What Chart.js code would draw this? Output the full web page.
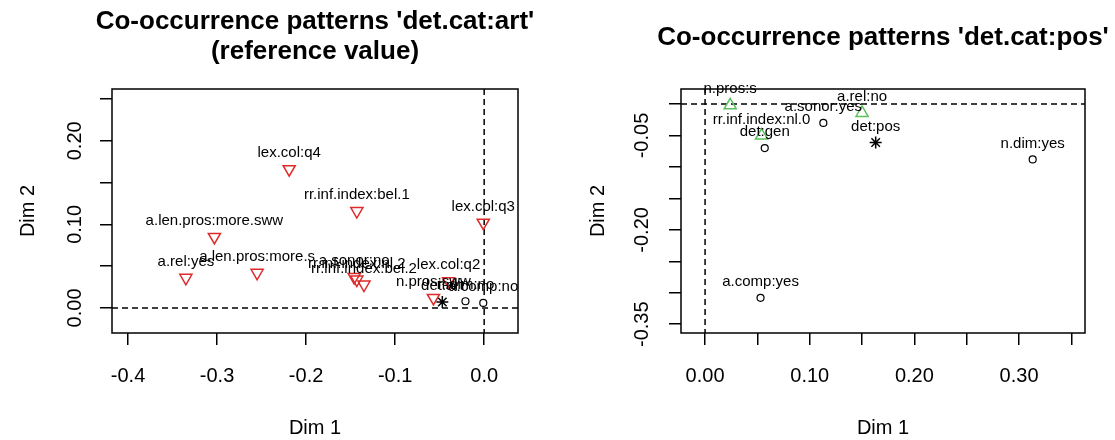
<!DOCTYPE html>
<html>
<head>
<meta charset="utf-8">
<script src="https://cdn.jsdelivr.net/npm/chart.js@4.4.1/dist/chart.umd.min.js"></script>
<style>
  html, body { margin: 0; padding: 0; background: #fff; }
  #wrap { position: relative; width: 1115px; height: 440px; }
  .pane { position: absolute; top: 0; height: 440px; }
  #left { left: 0; width: 557px; }
  #right { left: 557px; width: 558px; }
</style>
</head>
<body>
<div id="wrap">
  <div class="pane" id="left"><canvas id="cLeft" width="557" height="440"></canvas></div>
  <div class="pane" id="right"><canvas id="cRight" width="558" height="440"></canvas></div>
</div>
<script>
// ---- painel esquerdo: det.cat:art (valor de referencia)
const artTriNames = ['lex.col:q4', 'rr.inf.index:bel.1', 'lex.col:q3', 'a.len.pros:more.sww', 'a.rel:yes',
                     'a.len.pros:more.s', 'a.sonor:no', 'rr.inf.index:nl.2', 'rr.inf.index:bel.2', 'lex.col:q2', 'n.pros:sww'];
const artTriX = [-0.219, -0.143, -0.001, -0.303, -0.335, -0.255, -0.146, -0.143, -0.135, -0.040, -0.057];
const artTriY = [0.166, 0.116, 0.102, 0.085, 0.036, 0.042, 0.037, 0.034, 0.028, 0.032, 0.012];
const artCircNames = ['n.dim:no', 'a.comp:no'];
const artCircX = [-0.021, -0.001];
const artCircY = [0.008, 0.006];
const artRefName = ['det:art'];
const artRefX = [-0.047];
const artRefY = [0.007];
const artXTicks = [-0.4, -0.3, -0.2, -0.1, 0.0];
const artXLabels = ['-0.4', '-0.3', '-0.2', '-0.1', '0.0'];
const artYTicks = [0, 0.05, 0.10, 0.15, 0.20, 0.25];
const artYLabels = ['0.00', '', '0.10', '', '0.20', ''];

// ---- painel direito: det.cat:pos
const posTriNames = ['n.pros:s', 'a.rel:no', 'rr.inf.index:nl.0'];
const posTriX = [0.024, 0.150, 0.054];
const posTriY = [-0.002, -0.014, -0.050];
const posCircNames = ['a.sonor:yes', 'det:gen', 'n.dim:yes', 'a.comp:yes'];
const posCircX = [0.113, 0.057, 0.313, 0.053];
const posCircY = [-0.030, -0.070, -0.088, -0.308];
const posRefName = ['det:pos'];
const posRefX = [0.163];
const posRefY = [-0.061];
const posXTicks = [0, 0.05, 0.10, 0.15, 0.20, 0.25, 0.30, 0.35];
const posXLabels = ['0.00', '', '0.10', '', '0.20', '', '0.30', ''];
const posYTicks = [0, -0.05, -0.10, -0.15, -0.20, -0.25, -0.30, -0.35];
const posYLabels = ['', '-0.05', '', '', '-0.20', '', '', '-0.35'];

const FONTE = '"Liberation Sans", Arial, sans-serif';

const pontos = (xs, ys) => xs.map((x, i) => ({ x: x, y: ys[i] }));

// titulo centrado sobre a area do grafico, linhas tracejadas no zero, moldura e rotulos
const moldura = {
  id: 'moldura',
  beforeDatasetsDraw(chart) {
    const { ctx, chartArea: a, scales: { x, y } } = chart;
    const px = x.getPixelForValue(0), py = y.getPixelForValue(0);
    ctx.save();
    ctx.strokeStyle = '#000';
    ctx.lineWidth = 1.5;
    ctx.setLineDash([6, 4]);
    ctx.beginPath();
    ctx.moveTo(px, a.top); ctx.lineTo(px, a.bottom);
    ctx.moveTo(a.left, py); ctx.lineTo(a.right, py);
    ctx.stroke();
    ctx.restore();
  },
  afterDatasetsDraw(chart, args, opts) {
    const { ctx, chartArea: a } = chart;
    ctx.save();
    ctx.font = '15px ' + FONTE;
    ctx.fillStyle = '#000';
    ctx.textAlign = 'center';
    ctx.textBaseline = 'middle';
    chart.data.datasets.forEach((ds, i) => {
      const meta = chart.getDatasetMeta(i);
      (ds.nomes || []).forEach((n, j) => {
        const el = meta.data[j];
        if (el) ctx.fillText(n, el.x, el.y - 16);
      });
    });
    ctx.strokeStyle = '#000';
    ctx.lineWidth = 1.5;
    ctx.strokeRect(a.left, a.top, a.right - a.left, a.bottom - a.top);

    // titulo
    ctx.font = 'bold 26px ' + FONTE;
    const cx = (a.left + a.right) / 2;
    (opts.linhas || []).forEach((t, k) => ctx.fillText(t, cx, opts.y0 + k * 30));
    ctx.restore();
  }
};

function montar(id, cfg) {
  return new Chart(document.getElementById(id), {
    type: 'scatter',
    data: {
      datasets: [
        {
          nomes: cfg.triNames, data: pontos(cfg.triX, cfg.triY),
          pointStyle: 'triangle', rotation: cfg.triRot, radius: 7,
          borderColor: cfg.triCor, backgroundColor: 'rgba(255,255,255,0)', borderWidth: 1.5
        },
        {
          nomes: cfg.circNames, data: pontos(cfg.circX, cfg.circY),
          pointStyle: 'circle', radius: 3.5,
          borderColor: '#000', backgroundColor: '#fff', borderWidth: 1.2
        },
        {
          nomes: cfg.refName, data: pontos(cfg.refX, cfg.refY),
          pointStyle: 'star', radius: 6,
          borderColor: '#000', backgroundColor: '#000', borderWidth: 1.5
        }
      ]
    },
    options: {
      responsive: false,
      animation: false,
      events: [],
      layout: { padding: { left: 0, right: cfg.padRight, top: 89, bottom: 0 } },
      plugins: {
        legend: { display: false },
        tooltip: { enabled: false },
        title: { display: false },
        moldura: { linhas: cfg.titulo, y0: cfg.tituloY }
      },
      scales: {
        x: {
          type: 'linear', min: cfg.xMin, max: cfg.xMax,
          afterBuildTicks: s => { s.ticks = cfg.xTicks.map(v => ({ value: v })); },
          afterFit: s => { s.height = 107; },
          grid: { drawOnChartArea: false, drawTicks: true, tickLength: 12, color: '#000', lineWidth: 1.5 },
          border: { display: false },
          ticks: {
            autoSkip: false, minRotation: 0, maxRotation: 0, padding: 19,
            color: '#000', font: { family: FONTE, size: 20 },
            callback: (v, i) => cfg.xLabels[i]
          },
          title: { display: true, text: 'Dim 1', color: '#000', font: { family: FONTE, size: 20 }, padding: 0 }
        },
        y: {
          type: 'linear', min: cfg.yMin, max: cfg.yMax,
          afterBuildTicks: s => { s.ticks = cfg.yTicks.map(v => ({ value: v })); },
          afterFit: s => { s.width = cfg.yWidth; },
          grid: { drawOnChartArea: false, drawTicks: true, tickLength: 12, color: '#000', lineWidth: 1.5 },
          border: { display: false },
          ticks: {
            autoSkip: false, minRotation: 90, maxRotation: 90, crossAlign: 'center', padding: cfg.yTickPad,
            color: '#000', font: { family: FONTE, size: 20 },
            callback: (v, i) => cfg.yLabels[i]
          },
          title: { display: true, text: 'Dim 2', color: '#000', font: { family: FONTE, size: 20 }, padding: { top: cfg.yTitlePad } }
        }
      }
    },
    plugins: [moldura]
  });
}

montar('cLeft', {
  titulo: ["Co-occurrence patterns 'det.cat:art'", '(reference value)'],
  tituloY: 22,
  triNames: artTriNames, triX: artTriX, triY: artTriY, triRot: 180, triCor: '#dd2a2a',
  circNames: artCircNames, circX: artCircX, circY: artCircY,
  refName: artRefName, refX: artRefX, refY: artRefY,
  xMin: -0.418, xMax: 0.038, yMin: -0.030, yMax: 0.262,
  xTicks: artXTicks, xLabels: artXLabels, yTicks: artYTicks, yLabels: artYLabels,
  yWidth: 112, yTickPad: 5, yTitlePad: 16, padRight: 39
});

montar('cRight', {
  titulo: ["Co-occurrence patterns 'det.cat:pos'"],
  tituloY: 38,
  triNames: posTriNames, triX: posTriX, triY: posTriY, triRot: 0, triCor: '#5cc15c',
  circNames: posCircNames, circX: posCircX, circY: posCircY,
  refName: posRefName, refX: posRefX, refY: posRefY,
  xMin: -0.023, xMax: 0.363, yMin: -0.364, yMax: 0.024,
  xTicks: posXTicks, xLabels: posXLabels, yTicks: posYTicks, yLabels: posYLabels,
  yWidth: 124, yTickPad: 4, yTitlePad: 29, padRight: 30
});
</script>
</body>
</html>
